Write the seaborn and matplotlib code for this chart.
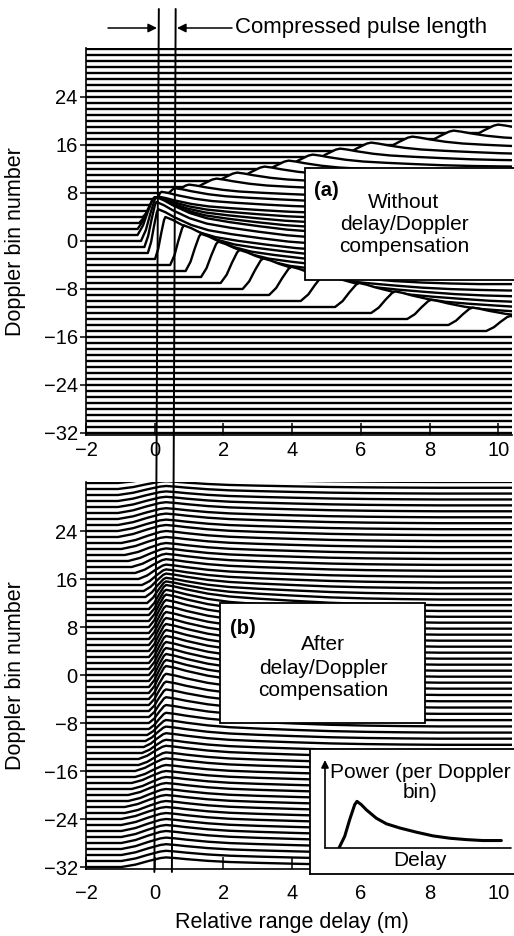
import numpy as np
import matplotlib
matplotlib.use("Agg")
import matplotlib.pyplot as plt
import seaborn as sns
from matplotlib.patches import Rectangle, FancyArrowPatch
from matplotlib.lines import Line2D
import matplotlib.transforms as mtransforms

# ---------------- data ----------------
doppler_bins = list(range(-32, 33))
y_ticks = [-32, -24, -16, -8, 0, 8, 16, 24]
x_ticks = [-2, 0, 2, 4, 6, 8, 10]

# waveform of one Doppler bin (inset): delay steps and normalised power
inset_delay = [0.0, 5.7, 10.7, 15.7, 18.0, 22.3, 27.3, 37.3, 47.3, 60.7, 77.3, 94.0, 110.7, 127.3, 144.0, 162.3]
inset_power = [0.0, 0.25, 0.61, 0.93, 1.0, 0.93, 0.82, 0.64, 0.52, 0.43, 0.34, 0.26, 0.21, 0.18, 0.16, 0.16]
peak_step = 18.0

# (a) without compensation: bins whose waveform falls inside the window
top_active_bins = [-15, -14, -13, -12, -11, -10, -9, -8, -7, -6, -5, -4, -3, -2, -1, 0, 1, 2, 3, 4,
                   5, 6, 7, 8, 9, 10, 11, 12, 13, 14, 15, 16, 17]
top_onset = [9.65, 8.55, 7.35, 6.30, 5.25, 4.25, 3.33, 2.56, 1.92, 1.35, 0.90, 0.45, 0.01, -0.20, -0.30, -0.40, -0.50, -0.50, -0.45, -0.35,
             -0.15, 0.00, 0.20, 0.80, 1.40, 2.20, 2.90, 3.60, 4.40, 5.30, 6.50, 7.70, 9.00]
top_rise = [0.70, 0.70, 0.70, 0.70, 0.70, 0.70, 0.65, 0.60, 0.55, 0.50, 0.45, 0.40, 0.30, 0.30, 0.35, 0.45, 0.50, 0.50, 0.50, 0.45,
            0.35, 0.60, 0.80, 1.00, 1.00, 1.00, 1.00, 1.00, 1.00, 1.00, 1.00, 1.00, 1.00]
top_amp = [2.5, 2.9, 3.2, 3.6, 4.0, 4.4, 4.7, 5.1, 5.5, 5.9, 6.2, 6.6, 7.0, 7.3, 7.5, 7.3, 6.3, 5.3, 4.3, 3.4,
           3.2, 2.8, 2.4, 2.4, 2.4, 2.4, 2.4, 2.4, 2.4, 2.4, 2.4, 2.4, 2.4]
top_tail_scale = 0.05

# (b) after compensation: all bins peak at the same delay
bottom_peak_delay = 0.33
bottom_amp = [1.6, 1.7, 1.8, 1.9, 2.0, 2.0, 2.0, 2.0,
              2.0, 2.0, 2.0, 2.0, 2.0, 2.0, 2.0, 2.0,
              2.1, 2.1, 2.2, 2.2, 2.3, 2.4, 2.5, 2.7,
              3.0, 3.3, 3.6, 3.9, 4.2, 4.5, 4.5, 4.5,
              4.5, 4.5, 4.5, 4.5, 4.5, 4.5, 4.5, 4.5,
              4.5, 4.4, 4.2, 4.0, 3.6, 3.2, 2.9, 2.6,
              2.4, 2.3, 2.2, 2.1, 2.0, 2.0, 2.0, 2.0,
              1.9, 1.9, 1.8, 1.8, 1.7, 1.6, 1.5, 1.3,
              1.1]
bottom_rise = [1.3, 1.3, 1.3, 1.3, 1.3, 1.3, 1.3, 1.3,
               1.3, 1.2, 1.2, 1.1, 1.1, 1.0, 1.0, 0.9,
               0.9, 0.8, 0.8, 0.7, 0.65, 0.6, 0.55, 0.5,
               0.5, 0.5, 0.5, 0.5, 0.5, 0.5, 0.5, 0.5,
               0.5, 0.5, 0.5, 0.5, 0.5, 0.5, 0.5, 0.5,
               0.5, 0.5, 0.5, 0.5, 0.55, 0.6, 0.65, 0.7,
               0.8, 0.9, 1.0, 1.1, 1.2, 1.3, 1.3, 1.4,
               1.4, 1.4, 1.4, 1.4, 1.4, 1.4, 1.4, 1.4,
               1.4]
bottom_tail_scale = 0.063

pulse_edges_top = [0.12, 0.61]
pulse_edges_bottom = [-0.01, 0.50]

# ---------------- style ----------------
sns.set_theme(style="white")
plt.rcParams["font.family"] = ["Liberation Sans", "DejaVu Sans"]
plt.rcParams["text.color"] = "black"
plt.rcParams["axes.labelcolor"] = "black"
plt.rcParams["xtick.color"] = "black"
plt.rcParams["ytick.color"] = "black"

W, H = 514, 936
fig = plt.figure(figsize=(W / 100, H / 100), dpi=100)
fig.patch.set_facecolor("white")


def fx(px):
    return px / W


def fy(py):
    return 1 - py / H


XLIM = (-2, 10.4)
YLIM = (-32.25, 32.2)
top_ax = fig.add_axes([fx(86), fy(434.5), (512 - 86) / W, (434.5 - 47.8) / H])
bot_ax = fig.add_axes([fx(86), fy(868.5), (512 - 86) / W, (868.5 - 481.8) / H])

T = np.array(inset_delay)
P = np.array(inset_power)


def trace_xy(base, onset, rise, amp, tail_scale):
    x = np.where(T <= peak_step, onset + T / peak_step * rise,
                 onset + rise + (T - peak_step) * tail_scale)
    x_end = max(x[-1] + 0.01, XLIM[1] + 0.5)
    xs = np.concatenate([[XLIM[0] - 0.5], x, [x_end]])
    ys = base + amp * np.concatenate([[0.0], P, [P[-1]]])
    return xs, ys


def flat_xy(base):
    xs = np.array([XLIM[0] - 0.5, XLIM[1] + 0.5])
    return xs, np.array([base, base], dtype=float)


def draw_waterfall(ax, traces):
    for k in sorted(traces.keys(), reverse=True):
        xs, ys = traces[k]
        z = 2 + (32 - k) * 2
        ax.fill_between(xs, k - 0.05, ys, color="white", lw=0, zorder=z)
        sns.lineplot(x=xs, y=ys, ax=ax, color="black", lw=1.7, zorder=z + 1,
                     sort=False, estimator=None, legend=False)


top_traces = {}
for k in doppler_bins:
    if k in top_active_bins:
        i = top_active_bins.index(k)
        top_traces[k] = trace_xy(k, top_onset[i], top_rise[i], top_amp[i], top_tail_scale)
    else:
        top_traces[k] = flat_xy(k)

bot_traces = {}
for i, k in enumerate(doppler_bins):
    bot_traces[k] = trace_xy(k, bottom_peak_delay - bottom_rise[i], bottom_rise[i],
                             bottom_amp[i], bottom_tail_scale)

draw_waterfall(top_ax, top_traces)
draw_waterfall(bot_ax, bot_traces)

for ax, pad in ((top_ax, 4.5), (bot_ax, 11.5)):
    ax.set_xlim(*XLIM)
    ax.set_ylim(*YLIM)
    ax.set_facecolor("white")
    ax.set_xticks(x_ticks)
    ax.set_yticks(y_ticks)
    ax.set_xticklabels([str(v).replace("-", "\u2212") for v in x_ticks])
    ax.set_yticklabels([str(v).replace("-", "\u2212") for v in y_ticks])
    ax.tick_params(axis="x", direction="in", length=9, width=1.1, labelsize=14.5,
                   pad=pad, bottom=True, colors="black")
    ax.tick_params(axis="y", direction="out", length=4.5, width=1.1, labelsize=14.5,
                   pad=1.5, left=True, colors="black")
    for s in ("top", "right"):
        ax.spines[s].set_visible(False)
    for s in ("left", "bottom"):
        ax.spines[s].set_color("black")
        ax.spines[s].set_linewidth(1.2)
        ax.spines[s].set_zorder(500)
    ax.xaxis.set_zorder(500)
    ax.yaxis.set_zorder(500)
    ax.set_ylabel("Doppler bin number", fontsize=15.5, color="black")
    ax.yaxis.set_label_coords(-0.14, 0.5)
    ax.set_xlabel("")

bot_ax.set_xlabel("Relative range delay (m)", fontsize=15.5, color="black")
bot_ax.xaxis.set_label_coords(0.484, -0.112)

# ---------------- compressed pulse lines and arrows ----------------
blend = mtransforms.blended_transform_factory(top_ax.transData, fig.transFigure)
for xt, xb in zip(pulse_edges_top, pulse_edges_bottom):
    fig.add_artist(Line2D([xt, xb], [fy(9), fy(872)], transform=blend,
                          color="black", lw=1.4, zorder=9))

fig.add_artist(FancyArrowPatch((fx(108), fy(28)), (fx(157), fy(28)), transform=fig.transFigure,
                               arrowstyle="-|>", mutation_scale=13, lw=1.1, color="black",
                               shrinkA=0, shrinkB=0, zorder=9))
fig.add_artist(FancyArrowPatch((fx(232), fy(28)), (fx(177), fy(28)), transform=fig.transFigure,
                               arrowstyle="-|>", mutation_scale=13, lw=1.1, color="black",
                               shrinkA=0, shrinkB=0, zorder=9))
fig.text(fx(235), fy(28), "Compressed pulse length", fontsize=16, ha="left", va="center",
         color="black", zorder=10)

# ---------------- annotation boxes ----------------
fig.add_artist(Rectangle((fx(305), fy(280)), fx(540) - fx(305), (280 - 168) / H,
                         transform=fig.transFigure, facecolor="white", edgecolor="black",
                         lw=1.3, zorder=8))
fig.text(fx(314), fy(190), "(a)", fontsize=14.5, fontweight="bold", ha="left", va="center",
         color="black", zorder=10)
for txt, yy in (("Without", 202), ("delay/Doppler", 225), ("compensation", 247)):
    fig.text(fx(404), fy(yy), txt, fontsize=15, ha="center", va="center", color="black", zorder=10)

fig.add_artist(Rectangle((fx(220), fy(723)), fx(425) - fx(220), (723 - 603) / H,
                         transform=fig.transFigure, facecolor="white", edgecolor="black",
                         lw=1.3, zorder=8))
fig.text(fx(230), fy(629), "(b)", fontsize=14.5, fontweight="bold", ha="left", va="center",
         color="black", zorder=10)
for txt, yy in (("After", 645), ("delay/Doppler", 668), ("compensation", 690)):
    fig.text(fx(323), fy(yy), txt, fontsize=15, ha="center", va="center", color="black", zorder=10)

# ---------------- inset: power per Doppler bin ----------------
box_ax = fig.add_axes([fx(310), fy(874), (540 - 310) / W, (874 - 749) / H])
box_ax.set_zorder(20)
box_ax.set_facecolor("white")
box_ax.set_xticks([])
box_ax.set_yticks([])
for s in box_ax.spines.values():
    s.set_visible(True)
    s.set_color("black")
    s.set_linewidth(1.3)

curve_ax = fig.add_axes([fx(325), fy(848), (511 - 325) / W, (848 - 760) / H])
curve_ax.set_zorder(21)
curve_ax.patch.set_alpha(0)
sns.lineplot(x=inset_delay, y=inset_power, ax=curve_ax, color="black", lw=2.2,
             sort=False, estimator=None, legend=False)
curve_ax.set_xlim(-14, 172)
curve_ax.set_ylim(0, 1.888)
curve_ax.set_xticks([])
curve_ax.set_yticks([])
curve_ax.set_xlabel("")
curve_ax.set_ylabel("")
for s in curve_ax.spines.values():
    s.set_visible(False)
curve_ax.annotate("", xy=(0, 1.0), xytext=(0, 0), xycoords="axes fraction",
                  arrowprops=dict(arrowstyle="-|>", lw=1.2, color="black", mutation_scale=11,
                                  shrinkA=0, shrinkB=0))
curve_ax.add_line(Line2D([0, 1], [0, 0], transform=curve_ax.transAxes, color="black",
                         lw=1.2, clip_on=False))

fig.text(fx(420), fy(772), "Power (per Doppler", fontsize=15, ha="center", va="center",
         color="black", zorder=30)
fig.text(fx(420), fy(793), "bin)", fontsize=15, ha="center", va="center", color="black", zorder=30)
fig.text(fx(420), fy(861), "Delay", fontsize=15, ha="center", va="center", color="black", zorder=30)

fig.savefig("out.png", dpi=100, facecolor="white")
